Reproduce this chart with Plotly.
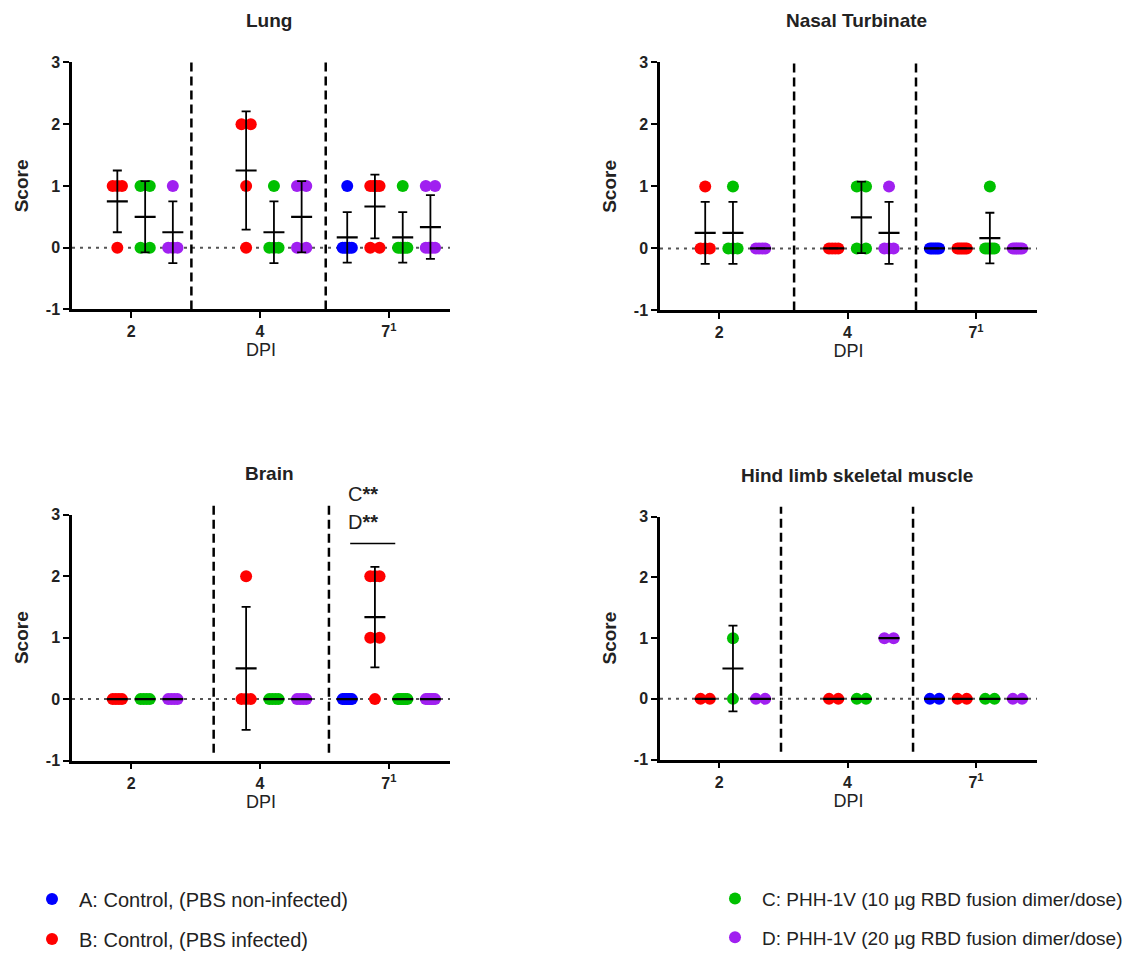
import numpy as np
import plotly.graph_objects as go

# ---------------- data ----------------
dpi_labels = ["2", "4", "7<sup>1</sup>"]
score_ticks = [-1, 0, 1, 2, 3]
score_labels = ["-1", "0", "1", "2", "3"]
group_names = [
    "A: Control, (PBS non-infected)",
    "B: Control, (PBS infected)",
    "C: PHH-1V (10 µg RBD fusion dimer/dose)",
    "D: PHH-1V (20 µg RBD fusion dimer/dose)",
]
group_colors = ["#0000FF", "#FF0000", "#00C000", "#A020F0"]
panel_titles = ["Lung", "Nasal Turbinate", "Brain", "Hind limb skeletal muscle"]

# scores per DPI (2, 4, 7); None = group not sampled
lung_A = [None, None, [1, 0, 0, 0, 0, 0]]
lung_B = [[1, 1, 1, 0], [2, 2, 1, 0], [1, 1, 1, 1, 0, 0]]
lung_C = [[1, 1, 0, 0], [1, 0, 0, 0], [1, 0, 0, 0, 0, 0]]
lung_D = [[1, 0, 0, 0], [1, 1, 0, 0], [1, 1, 0, 0, 0, 0]]

nasal_A = [None, None, [0, 0, 0, 0, 0, 0]]
nasal_B = [[1, 0, 0, 0], [0, 0, 0, 0], [0, 0, 0, 0, 0, 0]]
nasal_C = [[1, 0, 0, 0], [1, 1, 0, 0], [1, 0, 0, 0, 0, 0]]
nasal_D = [[0, 0, 0, 0], [1, 0, 0, 0], [0, 0, 0, 0, 0, 0]]

brain_A = [None, None, [0, 0, 0, 0, 0, 0]]
brain_B = [[0, 0, 0, 0], [2, 0, 0, 0], [2, 2, 2, 1, 1, 0]]
brain_C = [[0, 0, 0, 0], [0, 0, 0, 0], [0, 0, 0, 0, 0, 0]]
brain_D = [[0, 0, 0, 0], [0, 0, 0, 0], [0, 0, 0, 0, 0, 0]]

hind_A = [None, None, [0, 0]]
hind_B = [[0, 0], [0, 0], [0, 0]]
hind_C = [[1, 0], [0, 0], [0, 0]]
hind_D = [[0, 0], [1, 1], [0, 0]]

panels = [
    [lung_A, lung_B, lung_C, lung_D],
    [nasal_A, nasal_B, nasal_C, nasal_D],
    [brain_A, brain_B, brain_C, brain_D],
    [hind_A, hind_B, hind_C, hind_D],
]

# ---------------- layout constants ----------------
W, H = 1132, 959
slot_offsets = [-0.323, -0.108, 0.108, 0.323]
spread = 0.036
x_range = [-0.46, 2.475]
separators = [[0.467, 1.51], [0.584, 1.533], [0.64, 1.535], [0.482, 1.51]]
# pixel boxes: (left, right, top, bottom)
boxes = [(72, 450, 63, 312), (660, 1037, 63, 313), (72, 450, 519, 767), (660, 1037, 521, 766)]
FONT = "Arial, Liberation Sans, sans-serif"

fig = go.Figure()


def spread_offsets(vals):
    vals = list(vals)
    offs = [0.0] * len(vals)
    for v in set(vals):
        idx = [i for i, u in enumerate(vals) if u == v]
        k = len(idx)
        if k > 1:
            for j, i in enumerate(idx):
                offs[i] = -spread + 2 * spread * j / (k - 1)
    return offs


for p, groups in enumerate(panels):
    xa = "x" if p == 0 else f"x{p + 1}"
    ya = "y" if p == 0 else f"y{p + 1}"
    mean_traces = []
    for g, series in enumerate(groups):
        xs, ys = [], []
        mx, my, msd = [], [], []
        for d, vals in enumerate(series):
            if vals is None:
                continue
            base = d + slot_offsets[g]
            for o, v in zip(spread_offsets(vals), vals):
                xs.append(base + o)
                ys.append(v)
            arr = np.array(vals, dtype=float)
            mx.append(base)
            my.append(arr.mean())
            msd.append(arr.std(ddof=1))
        fig.add_trace(go.Scatter(
            x=xs, y=ys, mode="markers", xaxis=xa, yaxis=ya,
            marker=dict(size=12, color=group_colors[g], line=dict(width=0)),
            name=group_names[g], showlegend=(p == 0),
            legend="legend" if g < 2 else "legend2",
            legendgroup=group_names[g], hoverinfo="skip",
        ))
        mean_traces.append(go.Scatter(
            x=mx, y=my, mode="markers", xaxis=xa, yaxis=ya,
            marker=dict(symbol="line-ew", size=15, line=dict(width=2.2, color="black")),
            error_y=dict(type="data", array=msd, visible=True, color="black",
                         thickness=1.8, width=4.5),
            showlegend=False, hoverinfo="skip",
        ))
    for t in mean_traces:
        fig.add_trace(t)

    l, r, t_, b = boxes[p]
    xdom = [l / W, r / W]
    ydom = [1 - b / H, 1 - t_ / H]
    axis_common = dict(showline=True, linewidth=2.5, linecolor="black", ticks="outside",
                       ticklen=6, tickwidth=2, tickcolor="black", showgrid=False,
                       zeroline=False, automargin=False, fixedrange=True,
                       tickfont=dict(family=FONT, size=16, color="#222", weight="bold"))
    fig.update_layout(**{
        ("xaxis" if p == 0 else f"xaxis{p + 1}"): dict(
            domain=xdom, anchor=ya, range=x_range, tickvals=[0, 1, 2], ticktext=dpi_labels,
            title=dict(text="DPI", font=dict(family=FONT, size=18, color="#222"), standoff=2),
            **axis_common),
        ("yaxis" if p == 0 else f"yaxis{p + 1}"): dict(
            domain=ydom, anchor=xa, range=[-1, 3], tickvals=score_ticks, ticktext=score_labels,
            title=dict(text="<b>Score</b>", font=dict(family=FONT, size=19, color="#222"), standoff=13),
            **axis_common),
    })
    # dotted zero line
    fig.add_shape(type="line", xref=xa, yref=ya, x0=x_range[0], x1=x_range[1], y0=0, y1=0,
                  line=dict(color="#555", width=2, dash="3px,5px"), layer="below")
    # dashed separators (vertical span in paper coords)
    for sx in separators[p]:
        y0p = ydom[0] if p < 2 else ydom[0] + 8 / H
        y1p = ydom[1] if p < 2 else ydom[1] + 10 / H
        fig.add_shape(type="line", xref=xa, yref="paper", x0=sx, x1=sx, y0=y0p, y1=y1p,
                      line=dict(color="black", width=2.5, dash="9px,5px"))
    # panel title
    fig.add_annotation(text=f"<b>{panel_titles[p]}</b>", xref="paper", yref="paper",
                       x=(l + r) / 2 / W + 8 / W, y=1 - (t_ - 42) / H, showarrow=False,
                       font=dict(family=FONT, size=19, color="#222"),
                       xanchor="center", yanchor="middle")

# significance annotation on Brain, DPI 7
fig.add_shape(type="line", xref="x3", yref="y3", x0=1.70, x1=2.05, y0=2.53, y1=2.53,
              line=dict(color="black", width=1.5))
fig.add_annotation(text="C<b>**</b>", xref="x3", yref="paper", x=1.67, y=1 - 498 / H,
                   showarrow=False, xanchor="left", yanchor="middle",
                   font=dict(family=FONT, size=20, color="#222"))
fig.add_annotation(text="D<b>**</b>", xref="x3", yref="paper", x=1.67, y=1 - 526 / H,
                   showarrow=False, xanchor="left", yanchor="middle",
                   font=dict(family=FONT, size=20, color="#222"))

legend_common = dict(bgcolor="rgba(0,0,0,0)", xanchor="left", yanchor="top",
                     orientation="v", tracegroupgap=11, itemwidth=44,
                     itemclick=False, itemdoubleclick=False)
fig.update_layout(
    width=W, height=H,
    margin=dict(l=0, r=0, t=0, b=0),
    paper_bgcolor="white", plot_bgcolor="white",
    legend=dict(x=25 / W, y=1 - 887 / H, font=dict(family=FONT, size=20, color="#222"),
                **legend_common),
    legend2=dict(x=708 / W, y=1 - 887 / H, font=dict(family=FONT, size=19, color="#222"),
                 **legend_common),
)

fig.write_html("out.html", config={"displayModeBar": False},
               post_script="document.body.style.margin='0';")
